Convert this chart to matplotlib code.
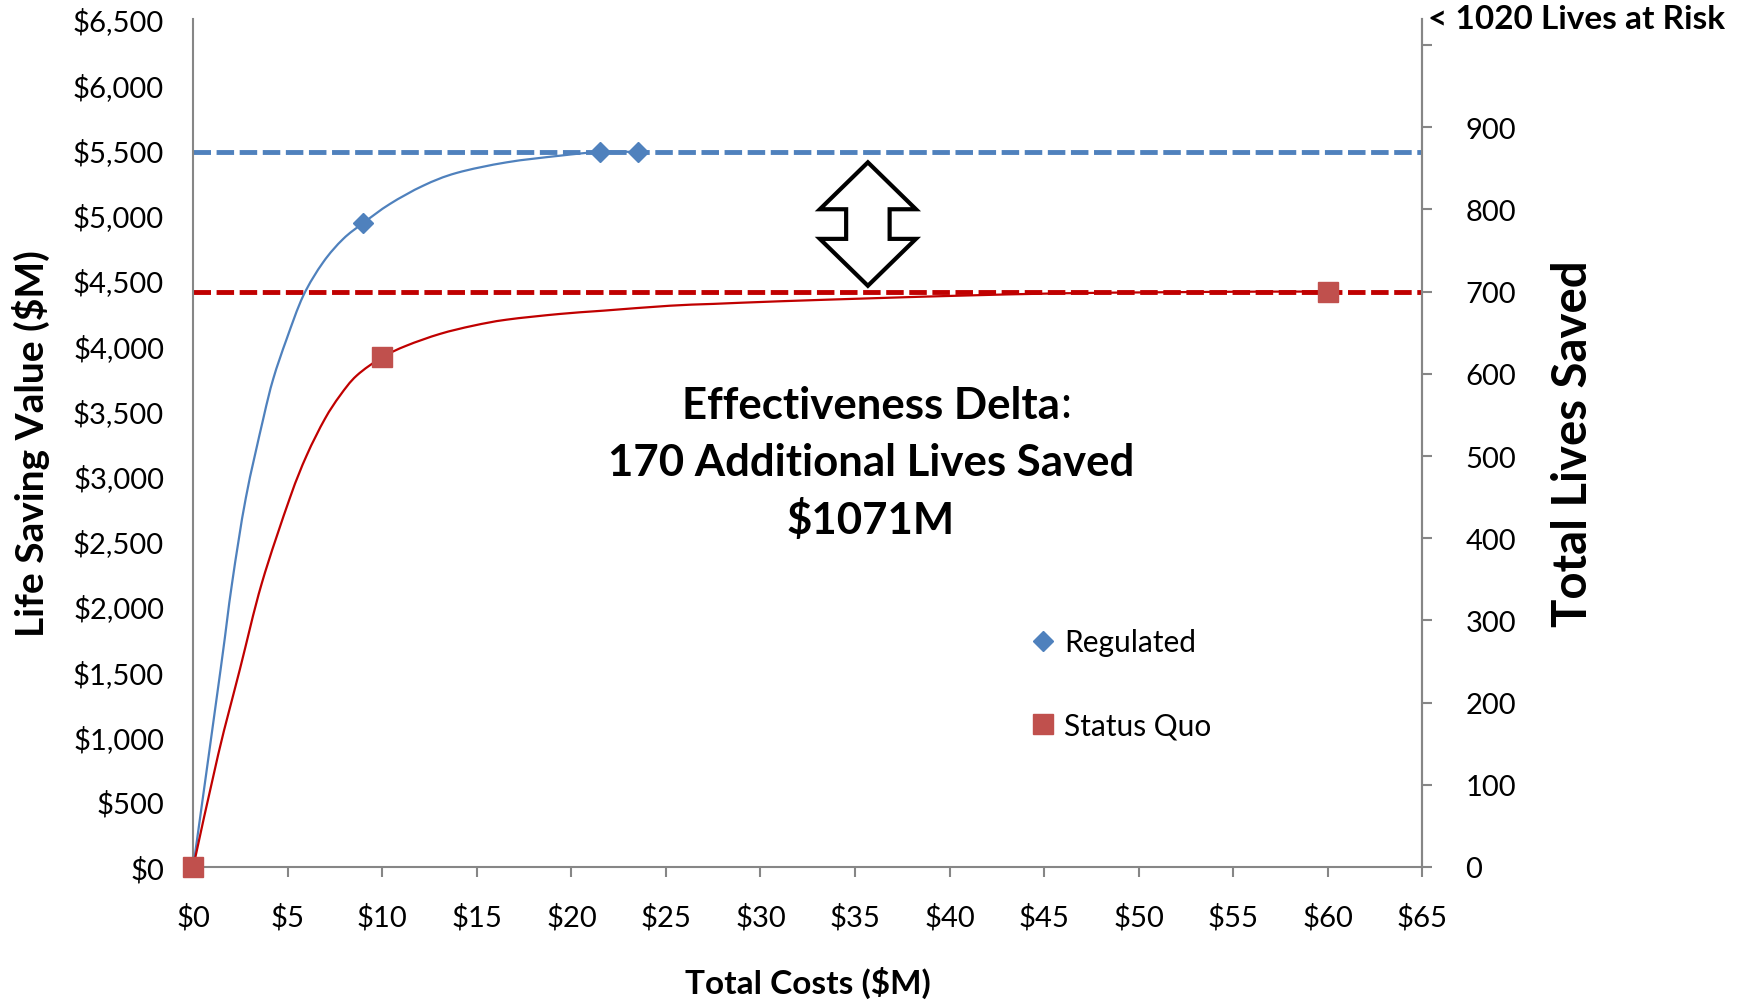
import matplotlib
matplotlib.use("Agg")
import matplotlib.pyplot as plt
from matplotlib.lines import Line2D
from matplotlib.patches import Polygon, PathPatch
from matplotlib.path import Path

plt.rcParams["font.family"] = ["Lato", "DejaVu Sans"]

# ---------------------------------------------------------------------------
# data
# ---------------------------------------------------------------------------
DOLLARS_PER_LIFE = 6.3  # $M per life saved (1071 / 170)

reg_cost = [0, 9.0, 21.5, 23.5]
reg_value = [0, 4936, 5481, 5481]

sq_cost = [0, 10.0, 60.0]
sq_value = [0, 3907, 4410]

# smoothed trend lines
reg_curve_x = [0, 1.45, 2.05, 2.78, 3.7, 4.23, 4.94, 5.82, 6.87, 7.93,
               8.99, 10.4, 12.16, 13.93, 16.57, 19.39, 21.5, 23.5]
reg_curve_y = [0, 1517, 2172, 2828, 3434, 3741, 4047, 4379, 4635, 4814,
               4936, 5082, 5222, 5320, 5401, 5452, 5481, 5481]

sq_curve_x = [0, 1.32, 2.47, 3.62, 5.11, 6.0, 6.96, 7.76, 8.64, 9.99, 11.28,
              13.05, 14.81, 16.57, 19.39, 21.68, 25.2, 27.5, 31.0, 36.3,
              40.5, 45.8, 51.1, 56.4, 60.0]
sq_curve_y = [0, 862, 1517, 2172, 2828, 3155, 3434, 3613, 3766, 3907, 3996,
              4086, 4149, 4195, 4239, 4264, 4302, 4316, 4336, 4361, 4379,
              4397, 4405, 4410, 4410]

reg_lives_max = 870
sq_lives_max = 700
extra_lives = reg_lives_max - sq_lives_max
extra_value = 1071

x_ticks = list(range(0, 70, 5))
y_ticks = list(range(0, 7000, 500))
lives_ticks = list(range(0, 1100, 100))

BLUE = "#4F81BD"
DARK_RED = "#C00000"
SQ_RED = "#C0504D"
GRAY = "#868686"


def smooth_path(xs, ys):
    """Bezier path through the points (like Excel's 'smoothed line')."""
    pts = list(zip(xs, ys))
    verts = [pts[0]]
    codes = [Path.MOVETO]
    n = len(pts)
    for i in range(n - 1):
        p0 = pts[max(i - 1, 0)]
        p1 = pts[i]
        p2 = pts[i + 1]
        p3 = pts[min(i + 2, n - 1)]
        c1 = (p1[0] + (p2[0] - p0[0]) / 6, p1[1] + (p2[1] - p0[1]) / 6)
        c2 = (p2[0] - (p3[0] - p1[0]) / 6, p2[1] - (p3[1] - p1[1]) / 6)
        verts += [c1, c2, p2]
        codes += [Path.CURVE4] * 3
    return Path(verts, codes)


fig = plt.figure(figsize=(17.52, 10.04), dpi=100)
ax = fig.add_axes([0.1103, 0.1355, 0.7015, 0.8446])

# curves
ax.add_patch(PathPatch(smooth_path(reg_curve_x, reg_curve_y), fill=False,
                       edgecolor=BLUE, lw=1.6, zorder=3))
ax.add_patch(PathPatch(smooth_path(sq_curve_x, sq_curve_y), fill=False,
                       edgecolor=DARK_RED, lw=1.6, zorder=3))

# plateau lines
ax.axhline(reg_lives_max * DOLLARS_PER_LIFE, color=BLUE, lw=3.5,
           dashes=(3.6, 1.15), zorder=2)
ax.axhline(sq_lives_max * DOLLARS_PER_LIFE, color=DARK_RED, lw=3.5,
           dashes=(3.6, 1.15), zorder=2)

# markers
ax.plot(reg_cost, reg_value, ls="none", marker="D", ms=10.5, color=BLUE,
        zorder=4, clip_on=False)
ax.plot(sq_cost, sq_value, ls="none", marker="s", ms=14, color=SQ_RED,
        zorder=5, clip_on=False)

ax.set_xlim(0, 65)
ax.set_ylim(0, 6500)
ax.set_xticks(x_ticks)
ax.set_xticklabels([f"${v}" for v in x_ticks])
ax.set_yticks(y_ticks)
ax.set_yticklabels([f"${v:,}" for v in y_ticks])

for side in ("left", "bottom", "right"):
    ax.spines[side].set_color(GRAY)
    ax.spines[side].set_linewidth(1.5)
ax.spines["top"].set_visible(False)
ax.tick_params(axis="x", direction="out", length=7, width=1.5, color=GRAY,
               labelsize=21, pad=19)
ax.tick_params(axis="y", length=0, labelsize=21, pad=21)

# right axis: lives saved
ax2 = ax.twinx()
ax2.set_ylim(0, 6500 / DOLLARS_PER_LIFE)
ax2.set_yticks(lives_ticks)
ax2.set_yticklabels([str(v) if v < 1000 else "" for v in lives_ticks])
ax2.tick_params(axis="y", direction="out", length=7, width=1.5, color=GRAY,
                labelsize=21, pad=24)
for side in ("left", "bottom", "top"):
    ax2.spines[side].set_visible(False)
ax2.spines["right"].set_color(GRAY)
ax2.spines["right"].set_linewidth(1.5)

ax.set_xlabel("Total Costs ($M)", fontsize=24, fontweight="bold", va="center")
ax.xaxis.set_label_coords(0.5, -0.1356)
ax.set_ylabel("Life Saving Value ($M)", fontsize=28, fontweight="bold",
              va="center")
ax.yaxis.set_label_coords(-0.1318, 0.5)
ax2.set_ylabel("Total Lives Saved", fontsize=34, fontweight="bold",
               va="center")
ax2.yaxis.set_label_coords(1.1227, 0.5)

ax.text(1.0046, 1.0, "< 1020 Lives at Risk", transform=ax.transAxes,
        ha="left", va="center", fontsize=24, fontweight="bold")

# hollow double arrow between the two plateaus
top = reg_lives_max * DOLLARS_PER_LIFE - 80
bot = sq_lives_max * DOLLARS_PER_LIFE + 45
cx, hw, sw = 35.68, 2.54, 1.15
mid_top = top - (top - bot) * 0.38
mid_bot = bot + (top - bot) * 0.38
arrow = Polygon([(cx, top), (cx + hw, mid_top), (cx + sw, mid_top),
                 (cx + sw, mid_bot), (cx + hw, mid_bot), (cx, bot),
                 (cx - hw, mid_bot), (cx - sw, mid_bot), (cx - sw, mid_top),
                 (cx - hw, mid_top)],
                closed=True, facecolor="white", edgecolor="black", lw=3,
                zorder=6)
ax.add_patch(arrow)

# annotation text
t1 = ax.text(0.5514, 0.545, "Effectiveness Delta", transform=ax.transAxes,
             ha="center", va="center", fontsize=31.5, fontweight="bold")
ax.annotate(":", xy=(1, 0), xycoords=t1, ha="left", va="bottom",
            fontsize=31.5)
ax.text(0.5514, 0.478, f"{extra_lives} Additional Lives Saved",
        transform=ax.transAxes, ha="center", va="center", fontsize=31.5,
        fontweight="bold")
ax.text(0.5514, 0.410, f"${extra_value}M", transform=ax.transAxes,
        ha="center", va="center", fontsize=31.5, fontweight="bold")

handles = [
    Line2D([], [], ls="none", marker="D", ms=10.5, color=BLUE),
    Line2D([], [], ls="none", marker="s", ms=14, color=SQ_RED),
]
ax.legend(handles, ["Regulated", "Status Quo"], loc="center left",
          bbox_to_anchor=(0.660, 0.2157), frameon=False, fontsize=21.5,
          handlelength=0.8, handletextpad=0.3, labelspacing=1.85)

fig.savefig("out.png", dpi=100)
